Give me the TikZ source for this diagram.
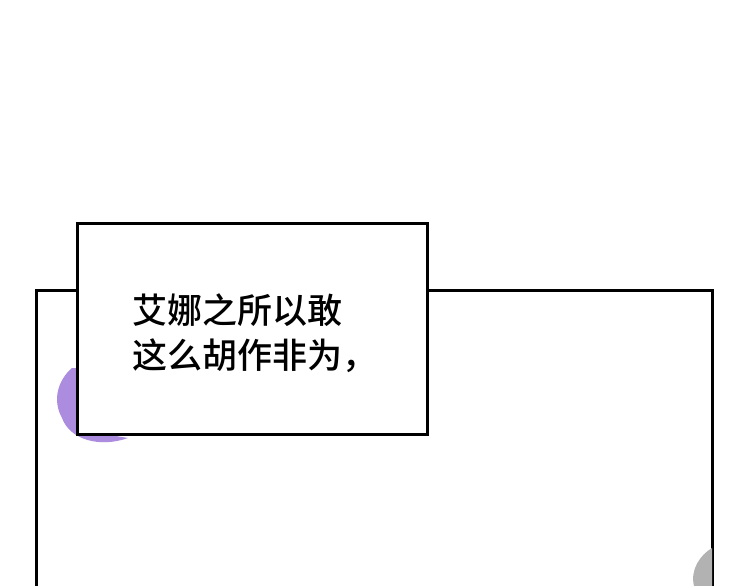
\documentclass[tikz,border=0pt]{standalone}
\usepackage{fontspec}
\newfontfamily\cjk{Noto Sans CJK SC Medium}
\begin{document}
\begin{tikzpicture}[x=1pt,y=-1pt,
  frame/.style={draw=black,line width=3pt},
  txt/.style={font=\cjk\fontsize{35}{45}\selectfont,anchor=north west,inner sep=0pt,align=left}]
\useasboundingbox[fill=white] (0,0) rectangle (750,586);
\draw[frame] (36,600) -- (36,290) -- (712,290) -- (712,600);
\fill[violet!55!blue!45] (72,368) .. controls (58,380) and (52,400) .. (62,418) .. controls (70,440) and (100,448) .. (128,438) -- (80,430) -- (78,368) -- cycle;
\fill[gray!60] (712,548) .. controls (700,555) and (690,570) .. (694,586) -- (712,586) -- cycle;
\node[frame,fill=white,minimum width=350,minimum height=211,inner sep=0pt] (box) at (252,328.5) {};
\node[txt] (t) at (132,293) {艾娜之所以敢\\这么胡作非为，};
\end{tikzpicture}
\end{document}
